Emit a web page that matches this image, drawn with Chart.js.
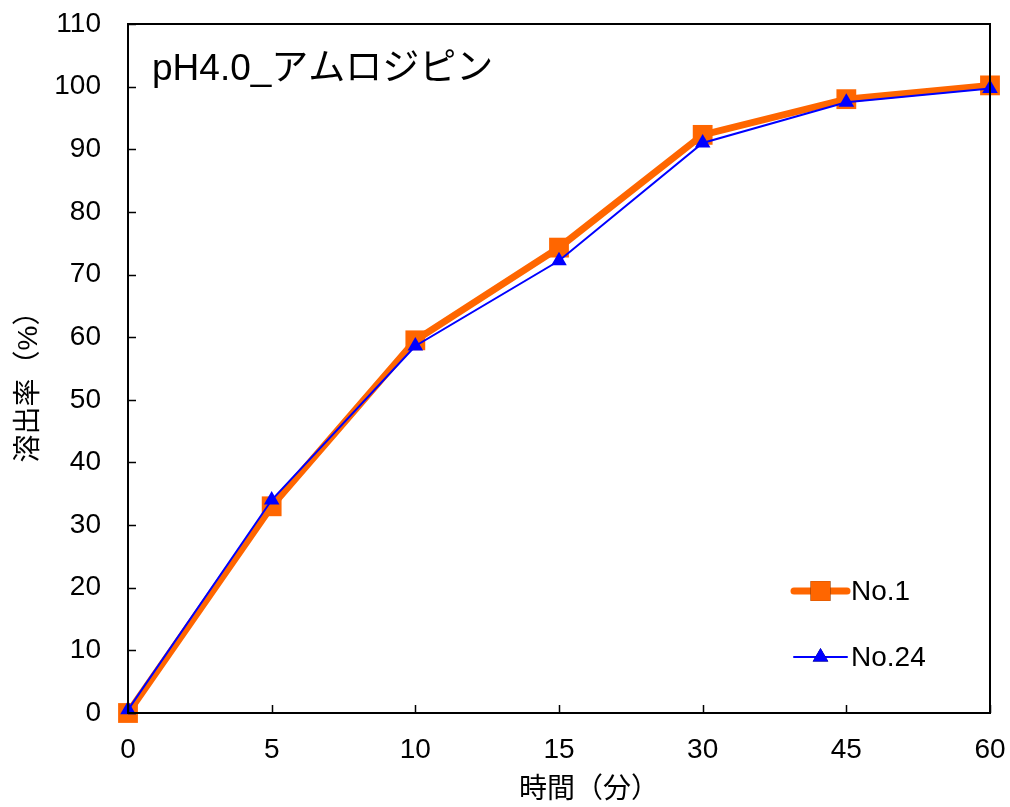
<!DOCTYPE html>
<html>
<head>
<meta charset="utf-8">
<script src="https://cdn.jsdelivr.net/npm/chart.js@4"></script>
<style>
  html, body { margin: 0; padding: 0; background: #fff; }
  #wrap { width: 1010px; height: 807px; }
</style>
</head>
<body>
<div id="wrap"><canvas id="chart" width="1010" height="807"></canvas></div>
<script>
// time points (min)
const timeLabels = ["0", "5", "10", "15", "30", "45", "60"];
// dissolution rate (%)
const no1Values = [0, 33, 59.5, 74.3, 92.3, 98, 100.2];
const no24Values = [0.5, 34, 58.6, 72.2, 91, 97.5, 99.7];
const seriesNames = ["No.1", "No.24"];
const chartTitle = "pH4.0_アムロジピン";
const xTitle = "時間（分）";
const yTitle = "溶出率（%）";

const NUM_FONT = "'Liberation Sans', Arial, sans-serif";
const JP_FONT = "'Liberation Sans', 'Noto Sans CJK JP', sans-serif";

// frame, inward ticks, title and legend
const decorations = {
  id: "decorations",
  afterDraw(chart) {
    const { ctx, chartArea: a, scales } = chart;
    ctx.save();
    ctx.strokeStyle = "#000";
    ctx.lineWidth = 2;
    ctx.strokeRect(a.left, a.top, a.right - a.left, a.bottom - a.top);

    ctx.lineWidth = 1.5;
    ctx.beginPath();
    scales.x.ticks.forEach((t, i) => {
      const px = Math.round(scales.x.getPixelForTick(i)) + 0.5;
      ctx.moveTo(px, a.bottom);
      ctx.lineTo(px, a.bottom - 8);
    });
    scales.y.ticks.forEach((t, i) => {
      const py = Math.round(scales.y.getPixelForTick(i)) + 0.5;
      ctx.moveTo(a.left, py);
      ctx.lineTo(a.left + 8, py);
    });
    ctx.stroke();

    // chart title inside the plot
    ctx.fillStyle = "#000";
    ctx.font = "37px " + JP_FONT;
    ctx.textAlign = "left";
    ctx.textBaseline = "middle";
    ctx.fillText(chartTitle, a.left + 24, 70);

    // legend
    const rows = [591, 657];
    chart.data.datasets.forEach((ds, i) => {
      const y = rows[i];
      const x0 = 794, x1 = 847, xm = (x0 + x1) / 2;
      ctx.strokeStyle = ds.borderColor;
      ctx.lineWidth = ds.borderWidth;
      ctx.lineCap = "round";
      ctx.beginPath();
      ctx.moveTo(x0, y);
      ctx.lineTo(x1, y);
      ctx.stroke();
      Chart.helpers.drawPoint(ctx, {
        pointStyle: ds.pointStyle,
        radius: ds.pointRadius,
        borderWidth: 0,
        rotation: 0
      }, xm, y);
      ctx.fillStyle = ds.pointBackgroundColor;
      ctx.fill();
      ctx.fillStyle = "#000";
      ctx.font = "28px " + NUM_FONT;
      ctx.fillText(ds.label, 851, y + 1);
    });

    // axis titles
    ctx.font = "28px " + JP_FONT;
    ctx.textAlign = "center";
    ctx.fillText(xTitle, 589, 790);
    ctx.translate(29, 380);
    ctx.rotate(-Math.PI / 2);
    ctx.fillText(yTitle, 0, 0);
    ctx.restore();
  }
};

const noPad = (scale) => {
  scale.paddingTop = 0;
  scale.paddingBottom = 0;
  scale.paddingLeft = 0;
  scale.paddingRight = 0;
};

const ctx = document.getElementById("chart").getContext("2d");
new Chart(ctx, {
  type: "line",
  data: {
    labels: timeLabels,
    datasets: [
      {
        label: seriesNames[0],
        data: no1Values,
        borderColor: "#FF6600",
        backgroundColor: "#FF6600",
        pointBackgroundColor: "#FF6600",
        pointBorderWidth: 0,
        borderWidth: 7,
        pointStyle: "rect",
        pointRadius: 14,
        tension: 0,
        clip: false,
        order: 1
      },
      {
        label: seriesNames[1],
        data: no24Values,
        borderColor: "#0000FF",
        backgroundColor: "#0000FF",
        pointBackgroundColor: "#0000FF",
        pointBorderWidth: 0,
        borderWidth: 2,
        pointStyle: "triangle",
        pointRadius: 9,
        tension: 0,
        clip: false,
        order: 0
      }
    ]
  },
  options: {
    responsive: false,
    animation: false,
    layout: { padding: { top: 24, right: 20, left: 0, bottom: 0 }, autoPadding: false },
    plugins: {
      legend: { display: false },
      tooltip: { enabled: false }
    },
    scales: {
      x: {
        offset: false,
        grid: { display: false, drawTicks: false },
        border: { display: false },
        ticks: {
          color: "#000",
          font: { family: NUM_FONT, size: 28 },
          padding: 20,
          maxRotation: 0
        },
        afterFit: (scale) => { scale.height = 94; noPad(scale); }
      },
      y: {
        min: 0,
        max: 110,
        grid: { display: false, drawTicks: false },
        border: { display: false },
        ticks: {
          stepSize: 10,
          color: "#000",
          font: { family: NUM_FONT, size: 28 },
          padding: 27
        },
        afterFit: (scale) => { scale.width = 128; noPad(scale); }
      }
    }
  },
  plugins: [decorations]
});
</script>
</body>
</html>
